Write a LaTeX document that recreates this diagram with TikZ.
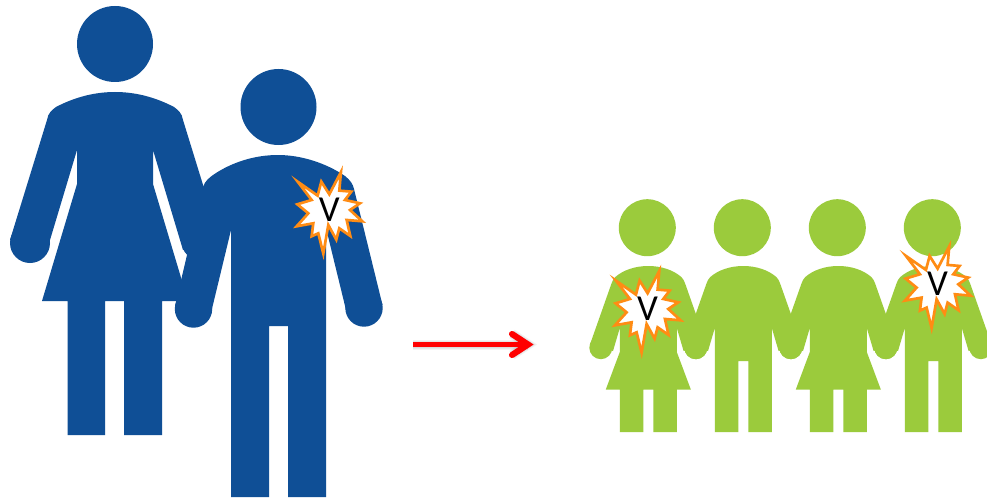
\documentclass[tikz,border=0pt]{standalone}
\usepackage{fontspec}
\setmainfont{Carlito}
\definecolor{navy}{HTML}{0F4F96}
\definecolor{leaf}{HTML}{9BCB3C}
\definecolor{burstline}{HTML}{FF8C14}
\tikzset{
  headdot/.style={circle,inner sep=0pt,minimum size=#1*0.75pt},
  burstshape/.style={draw=burstline,fill=white,line width=2pt,miter limit=10,line join=miter},
  vlabel/.style={inner sep=0pt,text=black,font=\fontsize{27.5pt}{30pt}\selectfont},
  redline/.style={draw=red,line width=4pt},
  redhead/.style={draw=red,line width=4.6pt,line cap=round,line join=miter},
  softline/.style={draw=black,opacity=0.05}
}
% small person bodies, drawn about x = 0
\newcommand{\smallshoulders}{(-37,284) .. controls (-36,281) and (-35,279) .. (-33,277) .. controls (-25,270) and (-13,266) .. (0,266) .. controls (13,266) and (25,270) .. (33,277) .. controls (35,279) and (36,281) .. (37,284)}
\newcommand{\smallwoman}[2]{%
  \begin{scope}[shift={(#1,0)}]
    \fill[leaf] \smallshoulders -- (58.5,345) -- (35.3,351) -- (28.5,328) -- (28.5,352) -- (42.5,389.5) -- (28.5,389.5) -- (28.5,432) -- (5,432) -- (5,389.5) -- (-5,389.5) -- (-5,432) -- (-28.5,432) -- (-28.5,389.5) -- (-42.5,389.5) -- (-28.5,352) -- (-28.5,328) -- (-35.3,351) -- (-58.5,345) -- cycle;
    \fill[leaf] (-47.5,347.7) circle[radius=11.5];
    \fill[leaf] (47.5,347.7) circle[radius=11.5];
  \end{scope}
  \node[headdot=57,fill=leaf] (#2) at (#1-1,227.7) {};}
\newcommand{\smallman}[2]{%
  \begin{scope}[shift={(#1,0)}]
    \fill[leaf] \smallshoulders -- (58.5,345) -- (35.3,351) -- (28.5,328) -- (28.5,432) -- (5,432) -- (5,361) -- (-5,361) -- (-5,432) -- (-28.5,432) -- (-28.5,328) -- (-35.3,351) -- (-58.5,345) -- cycle;
    \fill[leaf] (-47.5,347.7) circle[radius=11.5];
    \fill[leaf] (47.5,347.7) circle[radius=11.5];
  \end{scope}
  \node[headdot=57,fill=leaf] (#2) at (#1-1,227.7) {};}
\newcommand{\burst}[3]{%
  \begin{scope}[shift={(#1,#2)},scale=0.3333]
    \draw[burstshape] (-92,-95) -- (-32,-53) -- (-21,-95) -- (3,-57) -- (38,-124) -- (33,-68) -- (69,-65) -- (50,-40) -- (95,-30) -- (65,-10) -- (102,24) -- (55,20) -- (66,68) -- (33,45) -- (24,79) -- (0,35) -- (-15,121) -- (-30,60) -- (-50,69) -- (-45,30) -- (-95,39) -- (-60,0) -- (-93,-27) -- (-50,-40) -- cycle;
  \end{scope}
  \node[vlabel] (#3) at (#1+1,#2-4) {V};}
\begin{document}
\begin{tikzpicture}[x=0.75pt,y=-0.75pt]
\clip (0,0) rectangle (987,499);
\useasboundingbox (0,0) rectangle (987,499);
\fill[white] (0,0) rectangle (987,499);
% large woman
\node[headdot=76,fill=navy] (bigwomanhead) at (115,44) {};
\fill[navy] (47,120) .. controls (48,113) and (52,110) .. (56,107) .. controls (75,97) and (95,92) .. (115,92) .. controls (135,92) and (155,97) .. (174,107) .. controls (178,110) and (182,113) .. (183,120)
  -- (220,240) -- (183,250) -- (153,150) -- (153,184) -- (188,301) -- (162,301) -- (162,435) -- (124,435) -- (124,301) -- (105,301) -- (105,435) -- (67.5,435) -- (67.5,301) -- (42,301) -- (77,184) -- (77,150) -- (47,250) -- (10,240) -- cycle;
\fill[navy] (30,243) circle[radius=20];
\fill[navy] (198,243) circle[radius=16];
% large man
\node[headdot=76,fill=navy] (bigmanhead) at (278.5,107) {};
\fill[navy] (203,187) .. controls (205,181) and (209,178) .. (213,175) .. controls (232,162) and (255,155) .. (278,155) .. controls (301,155) and (326,163) .. (345,176) .. controls (350,180) and (353,184) .. (354,189)
  -- (382.5,305) -- (346.5,312) -- (326,228) -- (326,497) -- (288,497) -- (288,326) -- (269,326) -- (269,497) -- (231,497) -- (231,230) -- (211.7,310) -- (175,306) -- cycle;
\fill[navy] (193.5,309) circle[radius=18.7];
\fill[navy] (364,308) circle[radius=18.7];
\burst{328.3}{213.3}{vone}
% arrow
\coordinate (arrowstart) at (413,344.5);
\coordinate (arrowend) at (528,344.5);
\coordinate (arrowupper) at (512,334);
\coordinate (arrowlower) at (512,355);
\begin{scope}[shift={(2,5)}]
  \foreach \w in {3,4.5,6,7.5}{
    \draw[softline,line width=\w pt] (arrowstart) -- (arrowend);
    \draw[softline,line width=\w pt] (arrowupper) -- (arrowend) -- (arrowlower);
  }
\end{scope}
\draw[redline] (arrowstart) -- (arrowend);
\draw[redhead] (arrowupper) -- (arrowend) -- (arrowlower);
% small people
\smallwoman{648.3}{headone}
\smallman{743.3}{headtwo}
\smallwoman{838.3}{headthree}
\smallman{933.3}{headfour}
\burst{646.6}{312.3}{vtwo}
\burst{936.6}{287.6}{vthree}
\end{tikzpicture}
\end{document}
